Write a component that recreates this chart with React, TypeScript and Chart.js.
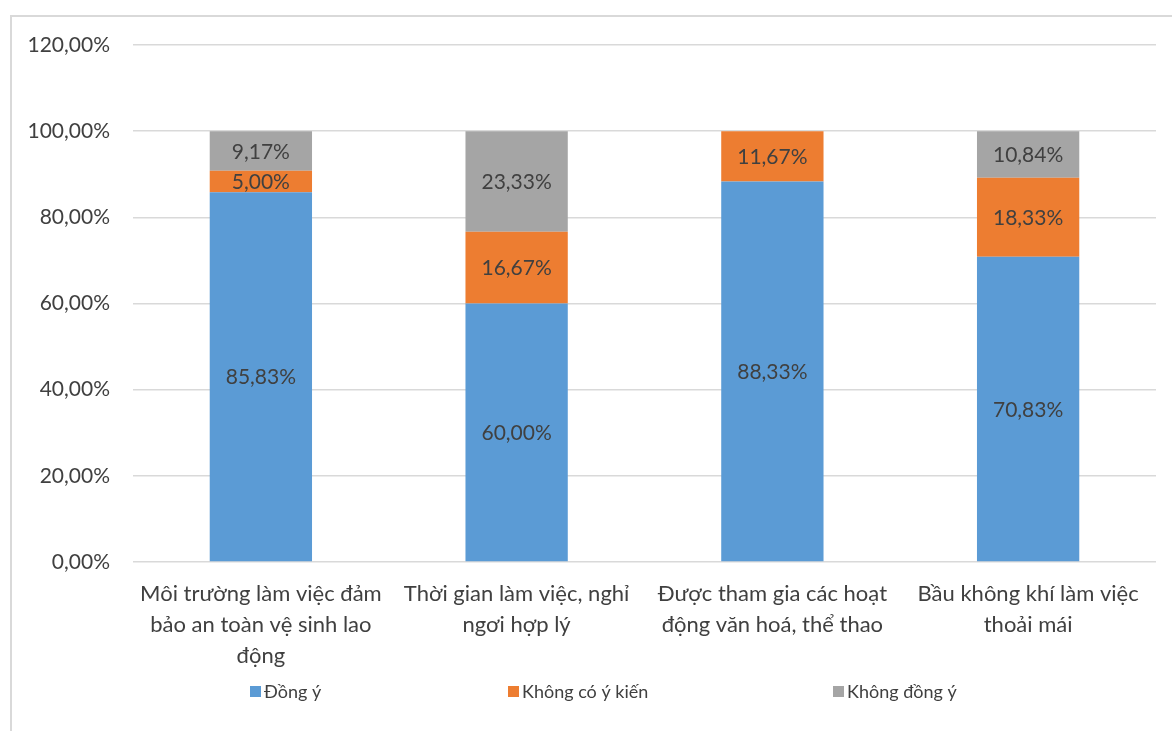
import React, { useEffect, useRef } from "react";
import { Chart, registerables } from "chart.js";

Chart.register(...registerables);

const categories: string[][] = [
  ["Môi trường làm việc đảm", "bảo an toàn vệ sinh lao", "động"],
  ["Thời gian làm việc, nghỉ", "ngơi hợp lý"],
  ["Được tham gia các hoạt", "động văn hoá, thể thao"],
  ["Bầu không khí làm việc", "thoải mái"],
];

const seriesNames = ["Đồng ý", "Không có ý kiến", "Không đồng ý"];
const agree = [85.83, 60.0, 88.33, 70.83];
const neutral = [5.0, 16.67, 11.67, 18.33];
const disagree = [9.17, 23.33, 0, 10.84];
const seriesColors = ["#5B9BD5", "#ED7D31", "#A5A5A5"];
const yTicks = [0, 20, 40, 60, 80, 100, 120];

const FONT = "Lato, 'Open Sans', sans-serif";
const TEXT = "#404040";

const fmt = (v: number) => v.toFixed(2).replace(".", ",") + "%";

// Writes each non-zero segment's value in the middle of its bar piece.
const segmentLabels = {
  id: "segmentLabels",
  afterDatasetsDraw(chart: any) {
    const ctx = chart.ctx;
    ctx.save();
    ctx.font = `21px ${FONT}`;
    ctx.fillStyle = TEXT;
    ctx.textAlign = "center";
    ctx.textBaseline = "middle";
    chart.data.datasets.forEach((ds: any, di: number) => {
      const meta = chart.getDatasetMeta(di);
      meta.data.forEach((bar: any, i: number) => {
        const v = ds.data[i];
        if (!v) return;
        const { x, y, base } = bar.getProps(["x", "y", "base"], true);
        ctx.fillText(fmt(v), x, (y + base) / 2 + 1);
      });
    });
    ctx.restore();
  },
};

// Legend row along the bottom with square swatches.
const legendRow = {
  id: "legendRow",
  afterDraw(chart: any) {
    const ctx = chart.ctx;
    const xs = [250, 508, 833];
    const yc = 692;
    ctx.save();
    ctx.font = `18px ${FONT}`;
    ctx.textBaseline = "middle";
    ctx.textAlign = "left";
    seriesNames.forEach((name, i) => {
      ctx.fillStyle = seriesColors[i];
      ctx.fillRect(xs[i], yc - 6, 11, 11);
      ctx.fillStyle = TEXT;
      ctx.fillText(name, xs[i] + 14, yc);
    });
    ctx.restore();
  },
};

export default function App() {
  const ref = useRef<HTMLCanvasElement>(null);

  useEffect(() => {
    if (!ref.current) return;
    const chart = new Chart(ref.current, {
      type: "bar",
      data: {
        labels: categories,
        datasets: [agree, neutral, disagree].map((d, i) => ({
          label: seriesNames[i],
          data: d,
          backgroundColor: seriesColors[i],
          borderWidth: 0,
          categoryPercentage: 0.8,
          barPercentage: 0.5,
        })),
      },
      options: {
        animation: false,
        responsive: false,
        layout: { padding: { top: 45, right: 16, left: 0, bottom: 0 } },
        plugins: {
          legend: { display: false },
          tooltip: { enabled: false },
        },
        scales: {
          x: {
            stacked: true,
            grid: { display: false, drawTicks: false },
            border: { display: false },
            ticks: {
              color: TEXT,
              font: { family: FONT, size: 22, lineHeight: "31px" },
              padding: 16,
              maxRotation: 0,
              autoSkip: false,
            },
            afterFit: (s: any) => {
              s.height = 169;
            },
          },
          y: {
            stacked: true,
            min: 0,
            max: 120,
            afterBuildTicks: (s: any) => {
              s.ticks = yTicks.map((v) => ({ value: v }));
            },
            grid: { color: "#D9D9D9", lineWidth: 1.5, drawTicks: false },
            border: { display: false },
            ticks: {
              color: TEXT,
              font: { family: FONT, size: 21 },
              padding: 23,
              callback: (v: any) => fmt(Number(v)),
            },
            afterFit: (s: any) => {
              s.width = 133;
            },
          },
        },
      },
      plugins: [segmentLabels, legendRow],
    });
    return () => chart.destroy();
  }, []);

  return (
    <div
      style={{
        position: "fixed",
        left: 0,
        top: 0,
        width: 1172,
        height: 731,
        overflow: "hidden",
        background: "#fff",
      }}
    >
      <div
        style={{
          position: "absolute",
          left: 10,
          top: 15,
          width: 1300,
          height: 900,
          border: "2px solid #D9D9D9",
          boxSizing: "border-box",
        }}
      />
      <canvas
        ref={ref}
        width={1172}
        height={731}
        style={{ position: "absolute", left: 0, top: 0 }}
      />
    </div>
  );
}
